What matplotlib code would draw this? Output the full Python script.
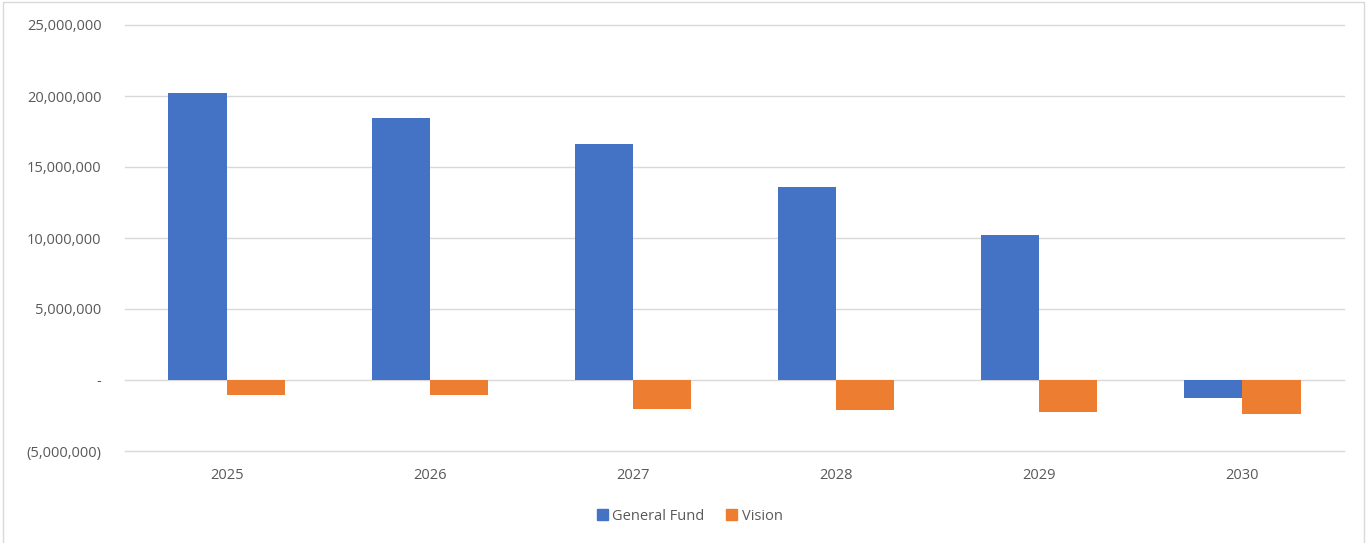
import matplotlib
matplotlib.use("Agg")
import matplotlib.pyplot as plt
import matplotlib.patches as mpatches
from matplotlib.ticker import FuncFormatter
import numpy as np

# Fund balance projections by year
years = ["2025", "2026", "2027", "2028", "2029", "2030"]
general_fund = [20_220_000, 18_440_000, 16_600_000, 13_600_000, 10_200_000, -1_290_000]
vision = [-1_050_000, -1_050_000, -2_040_000, -2_120_000, -2_260_000, -2_400_000]

BLUE = "#4472C4"
ORANGE = "#ED7D31"
TEXT = "#595959"
GRID = "#D9D9D9"

plt.rcParams["font.family"] = ["Open Sans", "DejaVu Sans"]


def money(v, pos):
    if abs(v) < 1:
        return "-"
    if v < 0:
        return f"({-v:,.0f})"
    return f"{v:,.0f}"


fig = plt.figure(figsize=(13.66, 5.43), dpi=100)
ax = fig.add_axes([125 / 1366, 1 - 451 / 543, (1344 - 125) / 1366, (451 - 25) / 543])

x = np.arange(len(years))
w = 0.286
ax.bar(x - w / 2, general_fund, w, color=BLUE, label="General Fund", zorder=3)
ax.bar(x + w / 2, vision, w, color=ORANGE, label="Vision", zorder=3)

ax.set_xlim(-0.5, len(years) - 0.5)
ax.set_ylim(-5_000_000, 25_000_000)
ax.set_yticks(range(-5_000_000, 25_000_001, 5_000_000))
ax.yaxis.set_major_formatter(FuncFormatter(money))
ax.set_xticks(x)
ax.set_xticklabels(years)

ax.grid(axis="y", color=GRID, linewidth=1, zorder=0)
for gl in ax.get_ygridlines():
    gl.set_clip_on(False)
for s in ax.spines.values():
    s.set_visible(False)
ax.tick_params(axis="both", length=0, colors=TEXT, labelsize=10.5)
ax.tick_params(axis="y", pad=17)
ax.tick_params(axis="x", pad=12)

handles = [mpatches.Patch(color=BLUE, label="General Fund"),
           mpatches.Patch(color=ORANGE, label="Vision")]
fig.legend(handles=handles, loc="center", bbox_to_anchor=(0.505, 1 - 516 / 543),
           ncol=2, frameon=False, fontsize=10.5, labelcolor=TEXT,
           handlelength=0.75, handleheight=0.75, handletextpad=0.3, columnspacing=1.5)

# light frame around the chart area
fig.patches.append(mpatches.Rectangle((3 / 1366, -0.01), 1361 / 1366, 1 - 2 / 543 + 0.01,
                                      transform=fig.transFigure, fill=False,
                                      edgecolor=GRID, linewidth=1))

fig.savefig("out.png", dpi=100, facecolor="white")
